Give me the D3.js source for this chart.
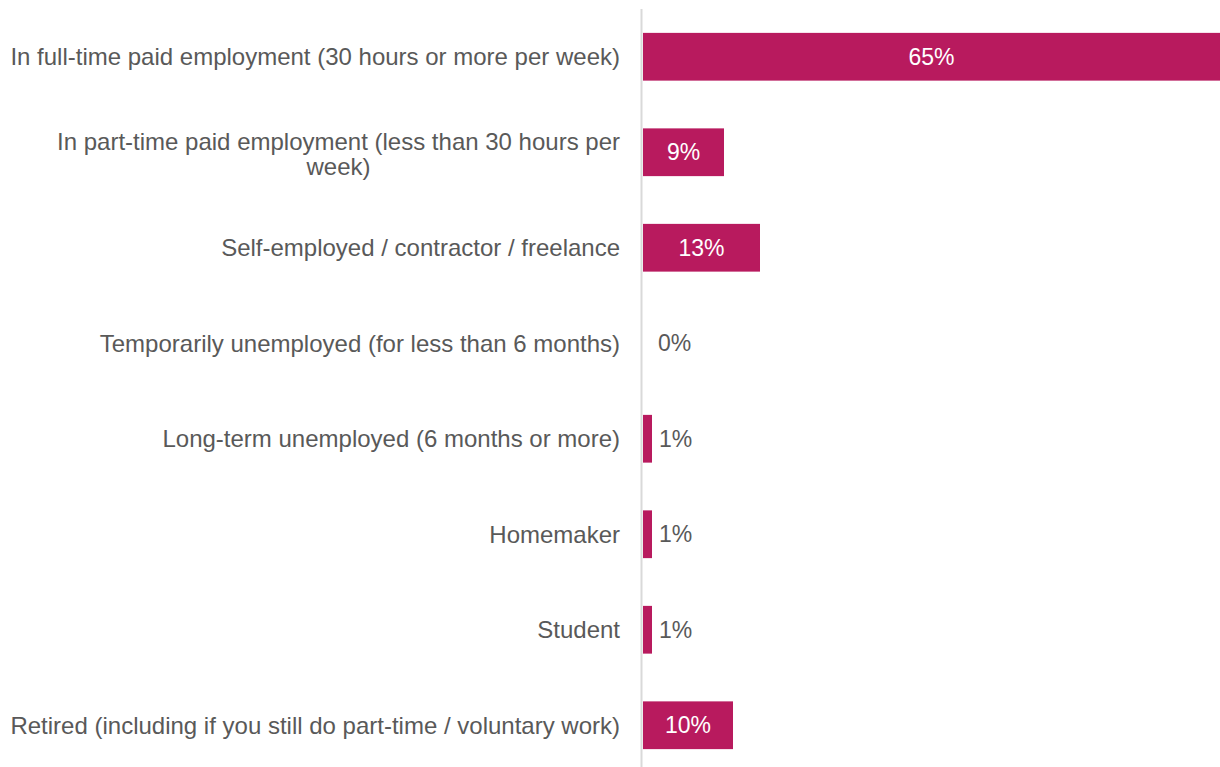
<!DOCTYPE html>
<html>
<head>
<meta charset="utf-8">
<script src="https://cdn.jsdelivr.net/npm/d3@7"></script>
<style>
  html, body { margin: 0; padding: 0; background: #fff; }
  svg { display: block; }
  text { font-family: "Liberation Sans", Arial, sans-serif; }
</style>
</head>
<body>
<svg id="chart" width="1220" height="767"></svg>
<script>
// Employment status categories, top to bottom
const categories = [
  "In full-time paid employment (30 hours or more per week)",
  "In part-time paid employment (less than 30 hours per week)",
  "Self-employed / contractor / freelance",
  "Temporarily unemployed (for less than 6 months)",
  "Long-term unemployed (6 months or more)",
  "Homemaker",
  "Student",
  "Retired (including if you still do part-time / voluntary work)"
];
// Share of respondents, percent
const values = [65, 9, 13, 0, 1, 1, 1, 10];
// Label lines where a category wraps
const labelLines = [
  ["In full-time paid employment (30 hours or more per week)"],
  ["In part-time paid employment (less than 30 hours per", "week)"],
  ["Self-employed / contractor / freelance"],
  ["Temporarily unemployed (for less than 6 months)"],
  ["Long-term unemployed (6 months or more)"],
  ["Homemaker"],
  ["Student"],
  ["Retired (including if you still do part-time / voluntary work)"]
];

const svg = d3.select("#chart");
const W = 1220, H = 767;
const x0 = 643;

const x = d3.scaleLinear().domain([0, 1]).range([x0, x0 + 900]);
const y = d3.scaleBand().domain(categories).range([9, 773])
  .paddingInner(0.5).paddingOuter(0.25);

const barColor = "#b81a5e";
const textColor = "#595959";
const labelSize = 24;
const valueSize = 23;

// Bars
svg.append("g").selectAll("rect")
  .data(categories)
  .join("rect")
  .attr("x", x0)
  .attr("y", d => y(d))
  .attr("width", (d, i) => x(values[i] / 100) - x0)
  .attr("height", y.bandwidth())
  .attr("fill", barColor);

// Vertical category axis line
svg.append("line")
  .attr("x1", 641.5).attr("x2", 641.5)
  .attr("y1", 9).attr("y2", H)
  .attr("stroke", "#d9d9d9").attr("stroke-width", 2);

// Category labels: single lines right-aligned, wrapped labels centred as a block
const labelRight = 620;
const lineH = 24.5;
const lab = svg.append("g").attr("font-size", labelSize).attr("fill", textColor);
categories.forEach((c, i) => {
  const lines = labelLines[i];
  const cy = y(c) + y.bandwidth() / 2;
  const t = lab.append("text")
    .attr("dominant-baseline", "central");
  if (lines.length === 1) {
    t.attr("text-anchor", "end").attr("x", labelRight).attr("y", cy).text(lines[0]);
  } else {
    t.attr("text-anchor", "middle");
    // measure the widest line to centre the block against the right edge
    const probe = lab.append("text").text(lines[0]);
    const w = probe.node().getComputedTextLength();
    probe.remove();
    const cx = labelRight - w / 2;
    lines.forEach((ln, k) => {
      t.append("tspan")
        .attr("x", cx)
        .attr("y", cy + 1 + (k - (lines.length - 1) / 2) * lineH)
        .text(ln);
    });
  }
});

// Value labels: inside bar (white, centred) when it fits, otherwise just past the bar end
const vl = svg.append("g").attr("font-size", valueSize);
categories.forEach((c, i) => {
  const v = values[i];
  const xe = x(v / 100);
  const cy = y(c) + y.bandwidth() / 2;
  const inside = v >= 5;
  const visibleEnd = Math.min(xe, W);
  vl.append("text")
    .attr("x", inside ? (x0 + visibleEnd) / 2 : Math.max(xe + 7, x0 + 15))
    .attr("y", cy)
    .attr("dominant-baseline", "central")
    .attr("text-anchor", inside ? "middle" : "start")
    .attr("fill", inside ? "#ffffff" : textColor)
    .text(v + "%");
});
</script>
</body>
</html>
